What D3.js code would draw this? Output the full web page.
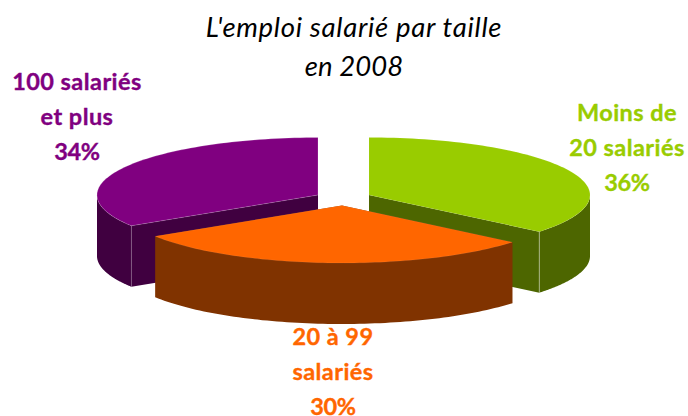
<!DOCTYPE html>
<html><head><meta charset="utf-8">
<script src="https://cdn.jsdelivr.net/npm/d3@7"></script>
<style>html,body{margin:0;padding:0;background:#fff}svg{display:block}</style>
</head><body><svg id="c" width="688" height="416"></svg>
<script>
const categories = ["Moins de 20 salariés", "20 à 99 salariés", "100 salariés et plus"];
const shares = [36, 30, 34];
const topColors = ["#99CC00", "#FF6600", "#800080"];
const sideColors = ["#4D6600", "#803300", "#400040"];
const titleLines = ["L'emploi salarié par taille", "en 2008"];
const labelLines = [["Moins de", "20 salariés", "36%"], ["20 à 99", "salariés", "30%"], ["100 salariés", "et plus", "34%"]];

const W = 688, H = 416, rx = 221, ry = 57.5, depth = 61;
const centers = [[369, 195], [342, 205.5], [318, 195]];
const labelPos = [[627, 120.5, 35], [333, 344.5, 35], [77, 90, 35]];

const svg = d3.select("#c").attr("viewBox", `0 0 ${W} ${H}`);
const arcs = d3.pie().sort(null)(shares);

function pt(c, a, dz = 0) { return [c[0] + rx * Math.sin(a), c[1] - ry * Math.cos(a) + dz]; }
function arcPts(c, a0, a1, dz = 0) {
  return d3.range(0, 81).map(i => pt(c, a0 + (a1 - a0) * i / 80, dz));
}
const line = d3.line();
const closed = pts => line(pts) + "Z";

function drawSlice(i) {
  const c = centers[i], d = arcs[i], a0 = d.startAngle, a1 = d.endAngle;
  const g = svg.append("g").attr("class", "slice").datum(categories[i]);
  const top = [c, ...arcPts(c, a0, a1)];
  // radial walls
  [a0, a1].forEach(a => {
    const p = pt(c, a);
    if (Math.cos(a) < 0 || (a > Math.PI)) {
      g.append("path").attr("fill", sideColors[i])
        .attr("d", closed([c, p, [p[0], p[1] + depth], [c[0], c[1] + depth]]));
    }
  });
  // outer wall: the visible lower half of the rim
  const vis0 = Math.max(a0, Math.PI / 2), vis1 = Math.min(a1, 3 * Math.PI / 2);
  if (vis1 > vis0) {
    const up = arcPts(c, vis0, vis1), down = arcPts(c, vis0, vis1, depth).reverse();
    g.append("path").attr("fill", sideColors[i]).attr("d", closed([...up, ...down]));
  }
  // crease lines on purple and green walls
  if (i !== 1) {
    const a = i === 0 ? a1 : a0;
    const p = pt(c, a);
    g.append("line").attr("x1", p[0]).attr("y1", p[1]).attr("x2", p[0]).attr("y2", p[1] + depth)
      .attr("stroke", "#fff").attr("stroke-opacity", i === 0 ? 0.5 : 0.2).attr("stroke-width", 0.8);
  }
  g.append("path").attr("fill", topColors[i]).attr("d", closed(top))
    .attr("stroke", "#fff").attr("stroke-opacity", i === 2 ? 0.3 : 0.12).attr("stroke-width", 0.6);
}
[2, 0, 1].forEach(drawSlice);

const title = svg.append("g");
titleLines.forEach((t, i) => title.append("text").text(t)
  .attr("x", 354).attr("y", 36.7 + i * 39).attr("text-anchor", "middle")
  .attr("font-family", "Lato, 'Open Sans', sans-serif").attr("font-style", "italic")
  .attr("font-size", 27.5).attr("letter-spacing", i === 0 ? 0.7 : 0.1).attr("fill", "#000"));

labelLines.forEach((ls, i) => ls.forEach((t, j) => svg.append("text").text(t)
  .attr("x", labelPos[i][0]).attr("y", labelPos[i][1] + j * labelPos[i][2])
  .attr("text-anchor", "middle").attr("font-family", "Lato, 'Open Sans', sans-serif")
  .attr("font-weight", 700).attr("font-size", 23.5).attr("letter-spacing", j === 2 ? -0.3 : 0.45)
  .attr("stroke", topColors[i]).attr("stroke-width", 0.35).attr("fill", topColors[i])));
</script></body></html>
